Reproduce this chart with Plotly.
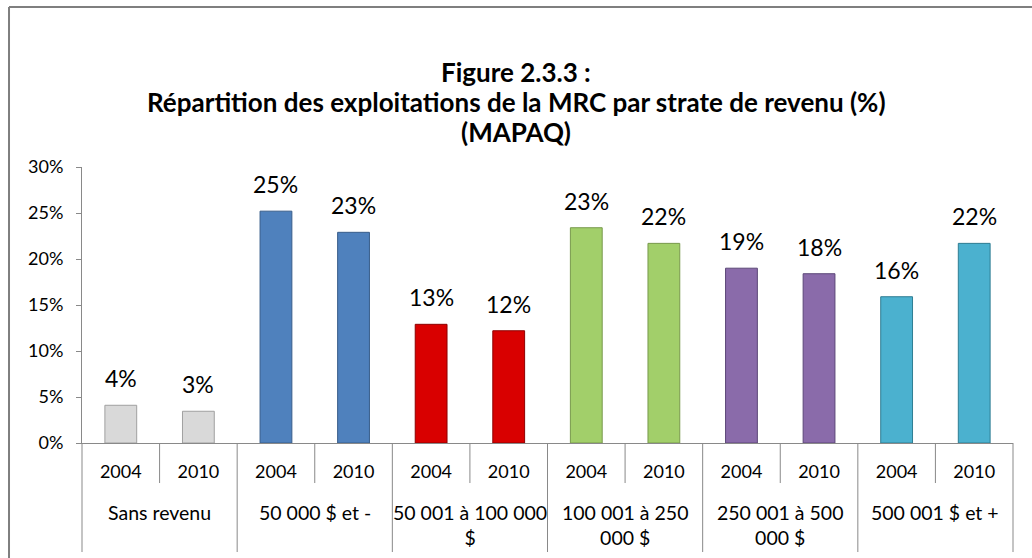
import plotly.graph_objects as go

# ---- data ----
title_lines = ["Figure 2.3.3 :",
               "Répartition des exploitations de la MRC par strate de revenu (%)",
               "(MAPAQ)"]
groups = ["Sans revenu", "50 000 $ et -", "50 001 à 100 000<br>$", "100 001 à 250<br>000 $",
          "250 001 à 500<br>000 $", "500 001 $ et +"]
years = ["2004", "2010"]
values_2004 = [4.1, 25.2, 12.9, 23.4, 19.0, 15.9]
values_2010 = [3.45, 22.9, 12.2, 21.7, 18.4, 21.7]
group_colors = ["#D9D9D9", "#4F81BD", "#D90000", "#A2CF6A", "#8A6BAA", "#4BB1CF"]
group_lines = ["#A0A0A0", "#385D8A", "#8E0000", "#78994C", "#5C4778", "#2F7D93"]
y_ticks = [0, 5, 10, 15, 20, 25, 30]

FONT = "Lato"
AX = "#898989"

xs, ys, cols, lcols, ticktext = [], [], [], [], []
for gi, g in enumerate(groups):
    for yi, (yr, vals) in enumerate(zip(years, [values_2004, values_2010])):
        xs.append(gi * 2 + yi)
        ys.append(vals[gi])
        cols.append(group_colors[gi])
        lcols.append(group_lines[gi])
        ticktext.append(yr)

fig = go.Figure()
fig.add_trace(go.Bar(
    x=xs, y=ys, width=0.41,
    marker=dict(color=cols, line=dict(color=lcols, width=1)),
    showlegend=False, hoverinfo="skip",
))

annotations = []
for x, y in zip(xs, ys):
    annotations.append(dict(x=x, y=y, xref="x", yref="y", text=f"{round(y)}%",
                            showarrow=False, yanchor="bottom", yshift=11,
                            font=dict(family=FONT, size=23, color="black")))
for gi, g in enumerate(groups):
    annotations.append(dict(x=gi * 2 + 0.5, y=-0.203, xref="x", yref="paper", text=g,
                            showarrow=False, yanchor="top",
                            font=dict(family=FONT, size=19.5, color="black")))
for ty, line in zip([1.3457, 1.2369, 1.1280], title_lines):
    annotations.append(dict(x=0.4662, y=ty, xref="paper", yref="paper", text=f"<b>{line}</b>",
                            showarrow=False, xanchor="center", yanchor="middle",
                            font=dict(family=FONT, size=26, color="black")))

shapes = []
ntot = len(xs)
for b in range(ntot - 1):
    xb = b + 0.5
    bottom = -0.145 if b % 2 == 0 else -0.395
    shapes.append(dict(type="line", xref="x", yref="paper", x0=xb, x1=xb, y0=0, y1=bottom,
                       line=dict(color=AX, width=1)))
for xd in [0, 1]:
    shapes.append(dict(type="line", xref="x domain", yref="paper", x0=xd, x1=xd, y0=0, y1=-0.395,
                       line=dict(color=AX, width=1)))
# chart border (top and left)
shapes.append(dict(type="line", xref="paper", yref="paper", x0=-0.0784, x1=1.05, y0=1.5796, y1=1.5796,
                   line=dict(color="#7F7F7F", width=2)))
shapes.append(dict(type="line", xref="paper", yref="paper", x0=-0.0784, x1=-0.0784, y0=1.5796, y1=-0.5,
                   line=dict(color="#7F7F7F", width=2)))

fig.update_layout(
    width=1032, height=558,
    margin=dict(l=82, r=19, t=167, b=115),
    paper_bgcolor="white", plot_bgcolor="white",
    font=dict(family=FONT, color="black"),
    xaxis=dict(range=[-0.5, ntot - 0.5], tickvals=xs, ticktext=ticktext, showline=True,
               linecolor=AX, linewidth=1, ticks="", showgrid=False, zeroline=False,
               tickfont=dict(family=FONT, size=18, color="black"), ticklabelstandoff=12),
    yaxis=dict(range=[0, 30], tickvals=y_ticks, ticktext=[f"{t}%" for t in y_ticks],
               showline=True, linecolor=AX, linewidth=1, ticks="outside", ticklen=5,
               tickcolor=AX, showgrid=False, zeroline=False,
               tickfont=dict(family=FONT, size=18, color="black"), ticklabelstandoff=9),
    annotations=annotations, shapes=shapes,
)
fig.write_html("out.html", config={"displayModeBar": False},
               post_script="document.body.style.margin='0';")
